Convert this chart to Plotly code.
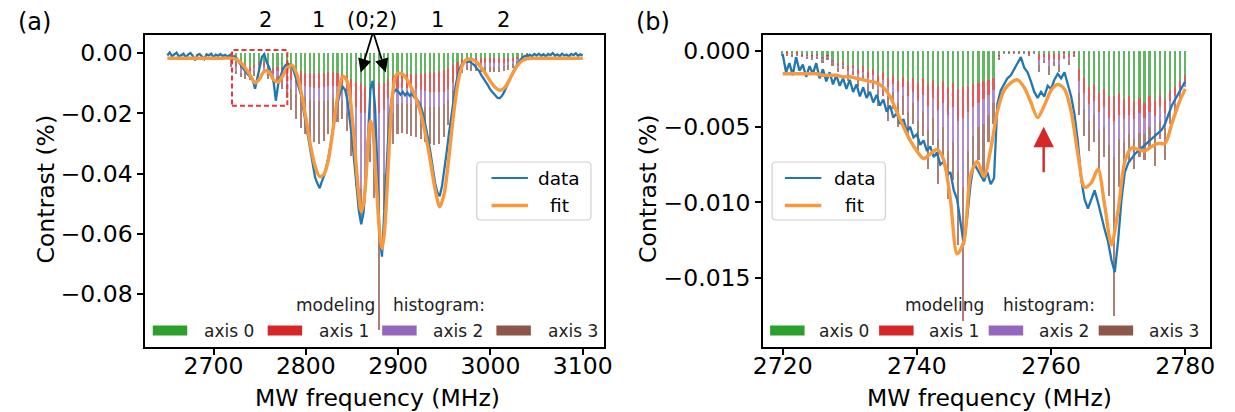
import numpy as np
import plotly.graph_objects as go

W, H = 1235, 412
FONT = "DejaVu Sans"

# ---------------- panel (a) ----------------
a_data_start, a_data_step = 2650.0, 2.5
a_data = [
    -0.0008, 0.0002, -0.0010, -0.0004, 0.0001, -0.0012, -0.0006, -0.0002, -0.0015, -0.0005,
    0.0000, -0.0009, -0.0024, -0.0006, -0.0003, -0.0011, -0.0020, -0.0004, -0.0008, -0.0002,
    -0.0014, -0.0005, -0.0009, -0.0003, -0.0010, -0.0006, -0.0012, -0.0007,
    -0.0015, -0.0010, -0.0016, -0.0030, -0.0042, -0.0052, -0.0063, -0.0072, -0.0080, -0.0088,
    -0.0118, -0.0085, -0.0055, -0.0012, -0.0004, -0.0030, -0.0045, -0.0072, -0.0092, -0.0158,
    -0.0105, -0.0078, -0.0055, -0.0042, -0.0035, -0.0038, -0.0042, -0.0065, -0.0090,
    -0.0110, -0.0140, -0.0190, -0.0235, -0.0285, -0.0330, -0.0375, -0.0412, -0.0432, -0.0448,
    -0.0425, -0.0405, -0.0372, -0.0338, -0.0290, -0.0240, -0.0195, -0.0158, -0.0128, -0.0112,
    -0.0122, -0.0155, -0.0210, -0.0280, -0.0360, -0.0450, -0.0525, -0.0568, -0.0530, -0.0420,
    -0.0260, -0.0120, -0.0092, -0.0180, -0.0380, -0.0610, -0.0675, -0.0530, -0.0360, -0.0235,
    -0.0158, -0.0130, -0.0122, -0.0128,
    -0.0138, -0.0128, -0.0140, -0.0131, -0.0142, -0.0135, -0.0146, -0.0152, -0.0163, -0.0182,
    -0.0208, -0.0242, -0.0285, -0.0330, -0.0385, -0.0430, -0.0462, -0.0475, -0.0442, -0.0390,
    -0.0330, -0.0268, -0.0208, -0.0155, -0.0105, -0.0068, -0.0045, -0.0033, -0.0026, -0.0030,
    -0.0027, -0.0034, -0.0040, -0.0050, -0.0058, -0.0072, -0.0083, -0.0098, -0.0108, -0.0122,
    -0.0132, -0.0140, -0.0148, -0.0150, -0.0142, -0.0128, -0.0110, -0.0094, -0.0076, -0.0060,
    -0.0045, -0.0032, -0.0022, -0.0014, -0.0009, -0.0012, -0.0005, -0.0010, -0.0003, -0.0008,
    -0.0002, -0.0009, -0.0004, -0.0011, -0.0003, -0.0007, 0.0000, -0.0009, -0.0004, -0.0010,
    -0.0002, -0.0008, -0.0005, -0.0011, -0.0003, -0.0007, -0.0001, -0.0009, -0.0004, -0.0008,
]

a_fit_freq = [2650, 2660, 2670, 2680, 2690, 2700, 2710, 2720, 2725, 2730, 2735, 2740, 2745,
              2750, 2755, 2760, 2765, 2770, 2775, 2780, 2785, 2790, 2795, 2800, 2805, 2810,
              2815, 2820, 2825, 2830, 2835, 2840, 2845, 2850, 2852.5, 2855, 2857.5, 2860,
              2862.5, 2865, 2867.5, 2870, 2872.5, 2875, 2877.5, 2880, 2882.5, 2885, 2887.5,
              2890, 2892.5, 2895, 2897.5, 2900, 2905, 2910, 2915, 2920, 2925, 2930, 2935,
              2940, 2945, 2950, 2955, 2960, 2965, 2970, 2975, 2980, 2985, 2990, 2995, 3000,
              3005, 3010, 3015, 3020, 3025, 3030, 3035, 3040, 3050, 3060, 3070, 3080, 3090, 3100]
a_fit = [-0.0017, -0.0017, -0.0017, -0.0017, -0.0017, -0.0017, -0.0017, -0.0017, -0.0021,
         -0.0033, -0.0052, -0.0075, -0.0099, -0.0085, -0.0060, -0.0062, -0.0088, -0.0097,
         -0.0075, -0.0050, -0.0040, -0.0068, -0.0130, -0.0215, -0.0305, -0.0375, -0.0410,
         -0.0400, -0.0345, -0.0240, -0.0135, -0.0076, -0.0095, -0.0205, -0.0290, -0.0390,
         -0.0475, -0.0525, -0.0500, -0.0420, -0.0300, -0.0225, -0.0255, -0.0360, -0.0490,
         -0.0600, -0.0648, -0.0600, -0.0480, -0.0330, -0.0190, -0.0110, -0.0075, -0.0067,
         -0.0070, -0.0090, -0.0118, -0.0155, -0.0205, -0.0275, -0.0360, -0.0450, -0.0510,
         -0.0465, -0.0345, -0.0205, -0.0095, -0.0038, -0.0020, -0.0021, -0.0030, -0.0048,
         -0.0070, -0.0094, -0.0113, -0.0123, -0.0116, -0.0092, -0.0062, -0.0038, -0.0024,
         -0.0018, -0.0017, -0.0017, -0.0017, -0.0017, -0.0017, -0.0017]

# modeling histogram (cumulative depth where each axis segment ends)
a_bar_start, a_bar_step = 2720.0, 5.0
a_ax0 = [-0.0020, -0.0030, -0.0035, -0.0040, -0.0045, -0.0040, -0.0030, -0.0030, -0.0045, -0.0050,
         -0.0045, -0.0045, -0.0050, -0.0055, -0.0060, -0.0060, -0.0065, -0.0065, -0.0066, -0.0066,
         -0.0065, -0.0064, -0.0064, -0.0065, -0.0068, -0.0075, -0.0085, -0.0095, -0.0100, -0.0110,
         -0.0120, -0.0110, -0.0100, -0.0100, -0.0085, -0.0075, -0.0070, -0.0068, -0.0068, -0.0068,
         -0.0068, -0.0068, -0.0066, -0.0064, -0.0062, -0.0060, -0.0056, -0.0050, -0.0040, -0.0030,
         -0.0020, -0.0015, -0.0015, -0.0015, -0.0016, -0.0016, -0.0017, -0.0017, -0.0017, -0.0016,
         -0.0016, -0.0015, -0.0013, -0.0010, -0.0006]
a_ax1 = [-0.0030, -0.0045, -0.0050, -0.0055, -0.0060, -0.0050, -0.0040, -0.0045, -0.0060, -0.0065,
         -0.0060, -0.0070, -0.0080, -0.0090, -0.0100, -0.0105, -0.0110, -0.0112, -0.0115, -0.0115,
         -0.0112, -0.0110, -0.0108, -0.0108, -0.0112, -0.0125, -0.0150, -0.0180, -0.0200, -0.0200,
         -0.0180, -0.0200, -0.0200, -0.0190, -0.0150, -0.0130, -0.0120, -0.0115, -0.0115, -0.0118,
         -0.0120, -0.0122, -0.0125, -0.0128, -0.0130, -0.0130, -0.0128, -0.0120, -0.0100, -0.0070,
         -0.0040, -0.0030, -0.0030, -0.0030, -0.0032, -0.0033, -0.0034, -0.0034, -0.0034, -0.0032,
         -0.0030, -0.0026, -0.0020, -0.0015, -0.0008]
a_ax2 = [-0.0035, -0.0060, -0.0065, -0.0065, -0.0070, -0.0060, -0.0050, -0.0055, -0.0070, -0.0075,
         -0.0075, -0.0085, -0.0100, -0.0120, -0.0135, -0.0145, -0.0150, -0.0155, -0.0158, -0.0160,
         -0.0158, -0.0155, -0.0150, -0.0150, -0.0160, -0.0200, -0.0280, -0.0380, -0.0450, -0.0420,
         -0.0300, -0.0380, -0.0450, -0.0400, -0.0280, -0.0200, -0.0170, -0.0165, -0.0168, -0.0170,
         -0.0172, -0.0175, -0.0178, -0.0180, -0.0180, -0.0178, -0.0170, -0.0155, -0.0125, -0.0085,
         -0.0050, -0.0040, -0.0040, -0.0042, -0.0045, -0.0045, -0.0046, -0.0046, -0.0046, -0.0044,
         -0.0040, -0.0035, -0.0028, -0.0020, -0.0010]
a_ax3 = [-0.0045, -0.0070, -0.0080, -0.0085, -0.0090, -0.0075, -0.0060, -0.0065, -0.0085, -0.0095,
         -0.0100, -0.0120, -0.0150, -0.0190, -0.0220, -0.0250, -0.0270, -0.0285, -0.0295, -0.0300,
         -0.0290, -0.0270, -0.0250, -0.0230, -0.0220, -0.0260, -0.0340, -0.0440, -0.0560, -0.0480,
         -0.0360, -0.0480, -0.0920, -0.0520, -0.0380, -0.0300, -0.0270, -0.0265, -0.0270, -0.0275,
         -0.0280, -0.0285, -0.0295, -0.0300, -0.0305, -0.0300, -0.0280, -0.0240, -0.0180, -0.0110,
         -0.0065, -0.0055, -0.0058, -0.0060, -0.0062, -0.0062, -0.0064, -0.0064, -0.0063, -0.0060,
         -0.0056, -0.0048, -0.0038, -0.0026, -0.0012]

# ---------------- panel (b) ----------------
b_data_start, b_data_step = 2720.0, 0.5
b_data = [
    -0.0002, -0.0014, -0.0008, -0.0016, -0.0004, -0.0013, -0.0009, -0.0017, -0.0010, -0.0015,
    -0.0008, -0.0018, -0.0012, -0.0020, -0.0014, -0.0022, -0.0016, -0.0023, -0.0018, -0.0025,
    -0.0019, -0.0027, -0.0022, -0.0030, -0.0024, -0.0031, -0.0027, -0.0034, -0.0029, -0.0036,
    -0.0032, -0.0040, -0.0036, -0.0044, -0.0041, -0.0048, -0.0045, -0.0053, -0.0050, -0.0057,
    -0.0055, -0.0062, -0.0059, -0.0066, -0.0063, -0.0070, -0.0067, -0.0075, -0.0073, -0.0082,
    -0.0080, -0.0092, -0.0098, -0.0112, -0.0128, -0.0110, -0.0088, -0.0074, -0.0078, -0.0082,
    -0.0086, -0.0080, -0.0088, -0.0084, -0.0035, -0.0026, -0.0022, -0.0018, -0.0016, -0.0012,
    -0.0009, -0.0004, -0.0011, -0.0014, -0.0020, -0.0027, -0.0031, -0.0027, -0.0030, -0.0023,
    -0.0025, -0.0019, -0.0015, -0.0018, -0.0014, -0.0022, -0.0030, -0.0042, -0.0060, -0.0085,
    -0.0098, -0.0104, -0.0098, -0.0092, -0.0100, -0.0110, -0.0118, -0.0126, -0.0138, -0.0146,
    -0.0125, -0.0098, -0.0080, -0.0074, -0.0071, -0.0068, -0.0066, -0.0064, -0.0062, -0.0060,
    -0.0058, -0.0056, -0.0054, -0.0052, -0.0048, -0.0042, -0.0036, -0.0032, -0.0028, -0.0025,
    -0.0020,
]

b_fit_start, b_fit_step = 2720.0, 1.0
b_fit = [-0.0015, -0.0015, -0.0015, -0.0015, -0.0015, -0.0015, -0.0016, -0.0016, -0.0016, -0.0017,
         -0.0017, -0.0018, -0.0019, -0.0020, -0.0021, -0.0024, -0.0030, -0.0040, -0.0050, -0.0059,
         -0.0066, -0.0071, -0.0068, -0.0065, -0.0072, -0.0098, -0.0134, -0.0126, -0.0082, -0.0073,
         -0.0083, -0.0065, -0.0040, -0.0026, -0.0021, -0.0019, -0.0024, -0.0034, -0.0044, -0.0036,
         -0.0026, -0.0022, -0.0025, -0.0040, -0.0068, -0.0090, -0.0087, -0.0078, -0.0102, -0.0128,
         -0.0105, -0.0073, -0.0064, -0.0065, -0.0066, -0.0063, -0.0061, -0.0061, -0.0048, -0.0035,
         -0.0025]

b_bar_start, b_bar_step = 2720.0, 0.75
b_ax0 = [-0.0001, -0.0001, -0.0002, -0.0001, -0.0002, -0.0002, -0.0003, -0.0002, -0.0004, -0.0003,
         -0.0006, -0.0008, -0.0007, -0.0010, -0.0009, -0.0012, -0.0010, -0.0014, -0.0012, -0.0016,
         -0.0014, -0.0018, -0.0016, -0.0020, -0.0017, -0.0020, -0.0018, -0.0021, -0.0018, -0.0022,
         -0.0019, -0.0023, -0.0020, -0.0024, -0.0021, -0.0025, -0.0024, -0.0023, -0.0022, -0.0021,
         -0.0020, -0.0019, -0.0018, -0.0003, -0.0001, -0.0001, -0.0001, -0.0001, -0.0001, -0.0001,
         -0.0001, -0.0002, -0.0002, -0.0002, -0.0002, -0.0002, -0.0001, -0.0002, -0.0001, -0.0012,
         -0.0018, -0.0024, -0.0022, -0.0028, -0.0025, -0.0030, -0.0030, -0.0028, -0.0032, -0.0030,
         -0.0033, -0.0031, -0.0034, -0.0030, -0.0033, -0.0029, -0.0032, -0.0026, -0.0024, -0.0020,
         -0.0016]
b_ax1 = [-0.0001, -0.0002, -0.0002, -0.0002, -0.0003, -0.0003, -0.0004, -0.0003, -0.0005, -0.0004,
         -0.0007, -0.0010, -0.0009, -0.0013, -0.0011, -0.0015, -0.0014, -0.0018, -0.0016, -0.0021,
         -0.0019, -0.0024, -0.0022, -0.0027, -0.0024, -0.0030, -0.0027, -0.0033, -0.0029, -0.0036,
         -0.0031, -0.0039, -0.0034, -0.0042, -0.0037, -0.0046, -0.0044, -0.0040, -0.0037, -0.0034,
         -0.0032, -0.0029, -0.0026, -0.0004, -0.0001, -0.0001, -0.0001, -0.0001, -0.0001, -0.0002,
         -0.0001, -0.0006, -0.0004, -0.0006, -0.0005, -0.0006, -0.0002, -0.0004, -0.0002, -0.0020,
         -0.0028, -0.0035, -0.0033, -0.0040, -0.0037, -0.0044, -0.0046, -0.0042, -0.0045, -0.0042,
         -0.0045, -0.0041, -0.0044, -0.0040, -0.0043, -0.0037, -0.0041, -0.0033, -0.0030, -0.0025,
         -0.0020]
b_ax2 = [-0.0002, -0.0002, -0.0003, -0.0002, -0.0003, -0.0004, -0.0004, -0.0004, -0.0006, -0.0005,
         -0.0008, -0.0011, -0.0010, -0.0015, -0.0013, -0.0018, -0.0016, -0.0022, -0.0019, -0.0026,
         -0.0023, -0.0030, -0.0027, -0.0034, -0.0030, -0.0040, -0.0034, -0.0046, -0.0040, -0.0052,
         -0.0044, -0.0058, -0.0050, -0.0066, -0.0060, -0.0080, -0.0090, -0.0066, -0.0056, -0.0050,
         -0.0048, -0.0042, -0.0034, -0.0005, -0.0002, -0.0001, -0.0002, -0.0001, -0.0002, -0.0002,
         -0.0002, -0.0009, -0.0006, -0.0010, -0.0007, -0.0009, -0.0003, -0.0006, -0.0003, -0.0028,
         -0.0038, -0.0046, -0.0042, -0.0052, -0.0050, -0.0062, -0.0070, -0.0058, -0.0060, -0.0055,
         -0.0058, -0.0054, -0.0055, -0.0050, -0.0054, -0.0046, -0.0051, -0.0040, -0.0035, -0.0029,
         -0.0024]
b_ax3 = [-0.0003, -0.0003, -0.0004, -0.0003, -0.0004, -0.0005, -0.0006, -0.0005, -0.0008, -0.0006,
         -0.0010, -0.0014, -0.0012, -0.0020, -0.0016, -0.0024, -0.0020, -0.0030, -0.0025, -0.0036,
         -0.0030, -0.0046, -0.0038, -0.0050, -0.0042, -0.0058, -0.0048, -0.0068, -0.0056, -0.0078,
         -0.0062, -0.0088, -0.0070, -0.0098, -0.0085, -0.0128, -0.0178, -0.0100, -0.0080, -0.0072,
         -0.0086, -0.0060, -0.0048, -0.0006, -0.0002, -0.0002, -0.0002, -0.0002, -0.0002, -0.0003,
         -0.0002, -0.0014, -0.0008, -0.0016, -0.0010, -0.0014, -0.0005, -0.0009, -0.0004, -0.0042,
         -0.0056, -0.0066, -0.0060, -0.0078, -0.0070, -0.0096, -0.0175, -0.0090, -0.0082, -0.0074,
         -0.0078, -0.0070, -0.0072, -0.0064, -0.0076, -0.0058, -0.0072, -0.0048, -0.0040, -0.0032,
         -0.0024]

AXIS_COLORS = ["#2ca02c", "#d62728", "#9467bd", "#8c564b"]
AXIS_NAMES = ["axis 0", "axis 1", "axis 2", "axis 3"]
BLUE = "#1f77b4"
ORANGE = "#f8993d"


def px(x):
    return x / W


def py(y):
    return 1 - y / H


fig = go.Figure()


def add_hist(start, step, ends, width, xa, ya):
    n = len(ends[0])
    freq = start + step * np.arange(n)
    base = np.zeros(n)
    for k, e in enumerate(ends):
        e = np.array(e)
        fig.add_trace(go.Bar(x=freq, y=e - base, base=base, width=width,
                             marker=dict(color=AXIS_COLORS[k], line=dict(width=0)),
                             opacity=0.75, xaxis=xa, yaxis=ya, showlegend=False,
                             name=AXIS_NAMES[k]))
        base = e


add_hist(a_bar_start, a_bar_step, [a_ax0, a_ax1, a_ax2, a_ax3], 1.7, "x", "y")
add_hist(b_bar_start, b_bar_step, [b_ax0, b_ax1, b_ax2, b_ax3], 0.24, "x2", "y2")

fig.add_trace(go.Scatter(x=a_data_start + a_data_step * np.arange(len(a_data)), y=a_data,
                         mode="lines", line=dict(color=BLUE, width=2.3), name="data",
                         showlegend=False, xaxis="x", yaxis="y"))
fig.add_trace(go.Scatter(x=a_fit_freq, y=a_fit, mode="lines",
                         line=dict(color=ORANGE, width=3.4, shape="spline", smoothing=0.8),
                         name="fit", showlegend=False, xaxis="x", yaxis="y"))
fig.add_trace(go.Scatter(x=b_data_start + b_data_step * np.arange(len(b_data)), y=b_data,
                         mode="lines", line=dict(color=BLUE, width=2.3), name="data",
                         showlegend=False, xaxis="x2", yaxis="y2"))
fig.add_trace(go.Scatter(x=b_fit_start + b_fit_step * np.arange(len(b_fit)), y=b_fit,
                         mode="lines",
                         line=dict(color=ORANGE, width=3.4, shape="spline", smoothing=0.8),
                         name="fit", showlegend=False, xaxis="x2", yaxis="y2"))

axis_common = dict(showline=True, linecolor="black", linewidth=2, mirror=True,
                   ticks="outside", ticklen=6, tickwidth=1.5, tickcolor="black",
                   showgrid=False, zeroline=False,
                   tickfont=dict(family=FONT, size=23.5, color="black"))

fig.update_layout(
    width=W, height=H, margin=dict(l=0, r=0, t=0, b=0),
    paper_bgcolor="white", plot_bgcolor="white",
    barmode="overlay", bargap=0, showlegend=False,
    font=dict(family=FONT, color="black"),
    xaxis=dict(domain=[px(137.5), px(602.8)], range=[2626.2, 3122.5],
               tickvals=[2700, 2800, 2900, 3000, 3100], anchor="y",
               ticklabelstandoff=-9, **axis_common),
    yaxis=dict(domain=[py(347), py(35)], range=[-0.0975, 0.006],
               tickvals=[0, -0.02, -0.04, -0.06, -0.08], tickformat=".2f",
               anchor="x", **axis_common),
    xaxis2=dict(domain=[px(765), px(1218.8)], range=[2717.1, 2783.7],
                tickvals=[2720, 2740, 2760, 2780], anchor="y2",
                ticklabelstandoff=-9, **axis_common),
    yaxis2=dict(domain=[py(347), py(35)], range=[-0.01955, 0.00106],
                tickvals=[0, -0.005, -0.010, -0.015], tickformat=".3f",
                anchor="x2", **axis_common),
)

ann = []
shapes = []


def text(x, y, s, size, anchor="center", angle=0, color="black"):
    ann.append(dict(x=px(x), y=py(y), xref="paper", yref="paper", text=s, showarrow=False,
                    xanchor=anchor, yanchor="middle", textangle=angle,
                    font=dict(family=FONT, size=size, color=color)))


# axis titles
text(37, 189, "Contrast (%)", 23.5, angle=-90)
text(648, 189, "Contrast (%)", 23.5, angle=-90)
text(373, 398, "MW frequency (MHz)", 23.5)
text(995, 398, "MW frequency (MHz)", 23.5)
# panel labels
text(25, 22, "(a)", 24)
text(653, 22, "(b)", 24)

# transition labels on top of panel (a)
peak_labels = ["2", "1", "(0;2)", "1", "2"]
peak_label_freq = [2756.5, 2813.8, 2871.6, 2942.4, 3013.8]
for s, f in zip(peak_labels, peak_label_freq):
    ann.append(dict(x=f, y=py(20), xref="x", yref="paper", text=s, showarrow=False,
                    xanchor="center", yanchor="middle",
                    font=dict(family=FONT, size=21, color="black")))

# black arrows
for hx in [2859.5, 2886.5]:
    ann.append(dict(x=hx, y=-0.0064, xref="x", yref="y", ax=2872.9, ay=0.0071,
                    axref="x", ayref="y", text="", showarrow=True, arrowhead=2,
                    arrowsize=1.5, arrowwidth=1.8, arrowcolor="black", standoff=0))
# red arrow in panel (b)
ann.append(dict(x=2758.9, y=-0.0050, xref="x2", yref="y2", ax=2758.9, ay=-0.0081,
                axref="x2", ayref="y2", text="", showarrow=True, arrowhead=2,
                arrowsize=1.7, arrowwidth=2.4, arrowcolor="#d62728", standoff=0))

# red dashed rectangle
shapes.append(dict(type="rect", xref="x", yref="y", x0=2720, x1=2780, y0=-0.0175, y1=0.001,
                   line=dict(color="#e8383d", width=2, dash="5px,3px"), layer="above"))


def rrect(x0, y0, x1, y1, r=4):
    def P(x, y):
        return f"{px(x):.6f},{py(y):.6f}"
    return (f"M{P(x0 + r, y0)} L{P(x1 - r, y0)} Q{P(x1, y0)} {P(x1, y0 + r)} "
            f"L{P(x1, y1 - r)} Q{P(x1, y1)} {P(x1 - r, y1)} L{P(x0 + r, y1)} "
            f"Q{P(x0, y1)} {P(x0, y1 - r)} L{P(x0, y0 + r)} Q{P(x0, y0)} {P(x0 + r, y0)} Z")


# data / fit legends
for (bx0, bx1, lx0, lx1, tx) in [(474, 590, 489, 526, 558), (774, 889, 787, 824, 858)]:
    shapes.append(dict(type="path", xref="paper", yref="paper", path=rrect(bx0, 162, bx1, 220),
                       line=dict(color="#d0d0d0", width=1.2),
                       fillcolor="rgba(255,255,255,0.85)", layer="above"))
    shapes.append(dict(type="line", xref="paper", yref="paper", x0=px(lx0), x1=px(lx1),
                       y0=py(178), y1=py(178), line=dict(color=BLUE, width=2.2), layer="above"))
    shapes.append(dict(type="line", xref="paper", yref="paper", x0=px(lx0), x1=px(lx1),
                       y0=py(205.5), y1=py(205.5), line=dict(color=ORANGE, width=3.6),
                       layer="above"))
    text(tx, 178, "data", 18.5)
    text(tx, 205.5, "fit", 18.5)

# modeling histogram legends
hist_leg = [
    (288, 387, [145, 261.7, 378, 494], [195, 311.7, 427.7, 544]),
    (906.7, 1006, [772, 882.7, 994, 1105.7], [820, 931.7, 1043, 1155]),
]
for (mx, hx, patch_x, text_x) in hist_leg:
    text(mx, 305, "modeling", 17, anchor="left", color="#222")
    text(hx, 305, "histogram:", 17, anchor="left", color="#222")
    for k in range(4):
        shapes.append(dict(type="rect", xref="paper", yref="paper",
                           x0=px(patch_x[k]), x1=px(patch_x[k] + 35),
                           y0=py(335.5), y1=py(325.5),
                           fillcolor=AXIS_COLORS[k], line=dict(width=0), layer="above"))
        text(text_x[k], 330.5, AXIS_NAMES[k], 17, anchor="left", color="#222")

fig.update_layout(annotations=ann, shapes=shapes)
fig.write_html("out.html")
